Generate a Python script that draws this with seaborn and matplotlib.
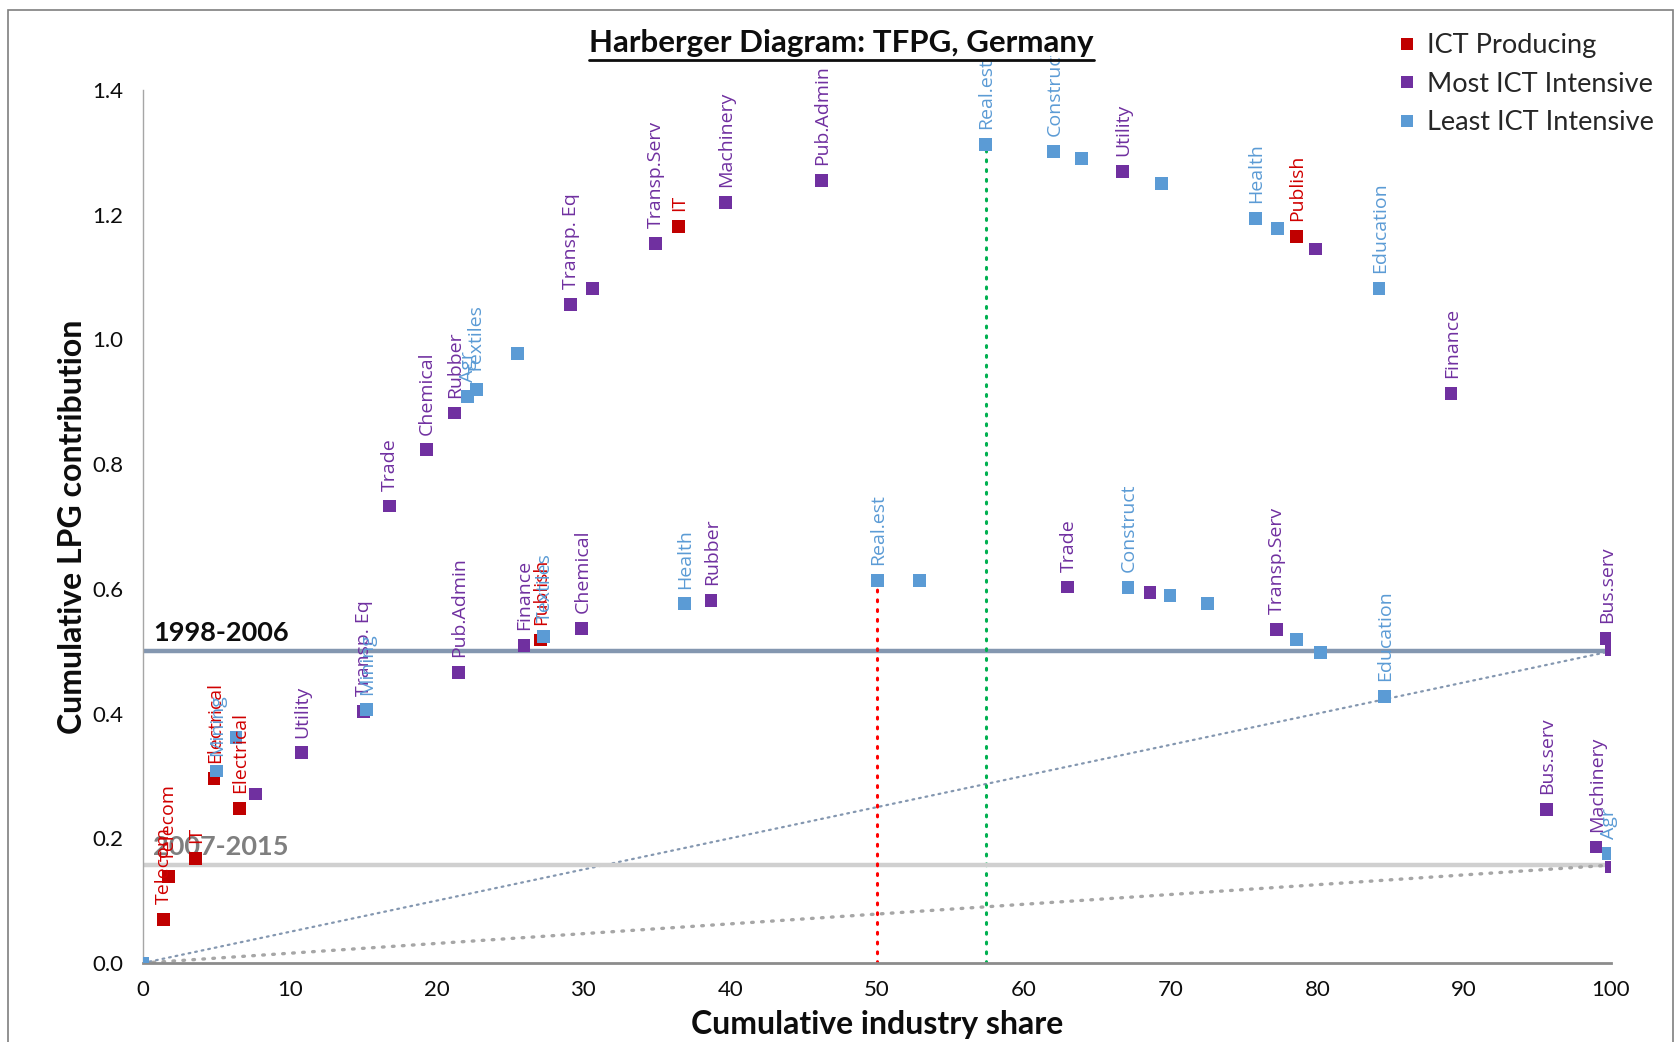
import matplotlib
matplotlib.use("Agg")
import matplotlib.pyplot as plt
import seaborn as sns
import pandas as pd
from matplotlib.transforms import Bbox, TransformedBbox
from matplotlib.lines import Line2D
from matplotlib.patches import Rectangle

# ---------------- data ----------------
groups = ["ICT Producing", "Most ICT Intensive", "Least ICT Intensive"]
group_colors = ["#C00000", "#7030A0", "#5B9BD5"]
P, M, L = groups

# Period 1998-2006
p1_share = [0, 1.38, 4.84, 5.03, 6.34, 16.8, 19.3, 21.2, 22.1, 22.7, 25.5, 29.1,
            30.6, 34.9, 36.5, 39.7, 46.2, 57.4, 62.05, 63.96, 66.75, 69.4, 75.8,
            77.3, 78.6, 79.9, 84.2, 89.1, 99.66, 100.0]
p1_lpg = [0, 0.070, 0.296, 0.308, 0.362, 0.733, 0.823, 0.882, 0.908, 0.920, 0.978,
          1.056, 1.082, 1.154, 1.181, 1.220, 1.255, 1.313, 1.301, 1.290, 1.269,
          1.250, 1.194, 1.178, 1.165, 1.145, 1.082, 0.913, 0.520, 0.502]
p1_group = [L, P, P, L, L, M, M, M, L, L, L, M, M, M, P, M, M, L, L, L, M, L, L,
            L, P, M, L, M, M, M]
p1_label = ["", "Telecom", "Electrical", "Mining", "", "Trade", "Chemical", "Rubber",
            "Agr", "Textiles", "", "Transp. Eq", "", "Transp.Serv", "IT", "Machinery",
            "Pub.Admin", "Real.est", "Construct", "", "Utility", "", "Health", "",
            "Publish", "", "Education", "Finance", "Bus.serv", ""]

# Period 2007-2015
p2_share = [0, 1.75, 3.57, 6.59, 7.68, 10.78, 15.04, 15.22, 21.5, 25.95, 27.1, 27.3,
            29.9, 36.9, 38.7, 50.05, 52.9, 63.0, 67.1, 68.6, 69.96, 72.5, 77.2, 78.6,
            80.2, 84.6, 95.6, 98.98, 99.8, 100.0]
p2_lpg = [0, 0.139, 0.168, 0.248, 0.271, 0.337, 0.403, 0.406, 0.466, 0.509, 0.518,
          0.523, 0.537, 0.576, 0.581, 0.614, 0.613, 0.603, 0.602, 0.594, 0.590, 0.577,
          0.535, 0.519, 0.498, 0.427, 0.246, 0.186, 0.175, 0.154]
p2_group = [L, P, P, P, M, M, M, L, M, M, P, L, M, L, M, L, L, M, L, M, L, L, M, L,
            L, L, M, M, L, M]
p2_label = ["", "Telecom", "IT", "Electrical", "", "Utility", "Transp. Eq", "Mining",
            "Pub.Admin", "Finance", "Publish", "Textiles", "Chemical", "Health", "Rubber",
            "Real.est", "", "Trade", "Construct", "", "", "", "Transp.Serv", "", "",
            "Education", "Bus.serv", "Machinery", "Agr", ""]

periods = ["1998-2006", "2007-2015"]
period_total = [0.50, 0.157]
period_line_colors = ["#8497B0", "#D0D0D0"]
period_diag_colors = ["#8497B0", "#A6A6A6"]
period_text_colors = ["#0D0D0D", "#7F7F7F"]
peak_line_colors = ["#00B050", "#FF0000"]
half_share = 50

x_ticks = [0, 10, 20, 30, 40, 50, 60, 70, 80, 90, 100]
y_ticks = [0.0, 0.2, 0.4, 0.6, 0.8, 1.0, 1.2, 1.4]

# ---------------- frame ----------------
df = pd.concat([
    pd.DataFrame({"share": p1_share, "lpg": p1_lpg, "group": p1_group,
                  "label": p1_label, "period": periods[0]}),
    pd.DataFrame({"share": p2_share, "lpg": p2_lpg, "group": p2_group,
                  "label": p2_label, "period": periods[1]}),
], ignore_index=True)
df["order"] = df["group"].map({g: i for i, g in enumerate(groups)})
df_draw = df.sort_values("order", kind="stable")

sns.set_theme(style="white")
plt.rcParams["font.family"] = ["Lato", "DejaVu Sans"]

fig = plt.figure(figsize=(16.76, 10.42), dpi=100)
ax = fig.add_axes([0.0853, 0.0758, 0.8759, 0.8378])

# reference lines
for i, per in enumerate(periods):
    sub = df[df["period"] == per]
    tot = period_total[i]
    ax.plot([0, 100], [tot, tot], color=period_line_colors[i], lw=3.2, zorder=1,
            solid_capstyle="butt")
    ax.plot([0, 100], [0, tot], color=period_diag_colors[i], lw=1.6 if i == 0 else 2.4,
            linestyle=(0, (0.8, 2.2)) if i == 0 else (0, (0.5, 2.5)),
            dash_capstyle="round", zorder=1)
    pk = sub.loc[sub["lpg"].idxmax()]
    px = pk["share"] if i == 0 else half_share
    ax.plot([px, px], [0, pk["lpg"]], color=peak_line_colors[i], lw=2.2,
            linestyle=(0, (0.6, 2.6)), dash_capstyle="round", zorder=1)
    ax.text(0.7, tot + 0.010, per, color=period_text_colors[i], fontsize=19.5,
            fontweight="bold", ha="left", va="bottom", zorder=2)

sns.scatterplot(data=df_draw, x="share", y="lpg", hue="group", hue_order=groups,
                palette=dict(zip(groups, group_colors)), marker="s", s=85,
                linewidth=0, ax=ax, zorder=3, legend=True)

# data labels
clip = TransformedBbox(Bbox([[0, 0], [1, 0.946]]), fig.transFigure)
label_colors = {P: "#D00000", M: "#7030A0", L: "#5B9BD5"}
for _, r in df.iterrows():
    if not r["label"]:
        continue
    t = ax.annotate(r["label"], (r["share"], r["lpg"]), xytext=(0.5, 11),
                    textcoords="offset points", rotation=90, ha="center", va="bottom",
                    fontsize=14, color=label_colors[r["group"]],
                    family=["Open Sans", "DejaVu Sans"], zorder=4,
                    annotation_clip=False)
    t.set_clip_box(clip)
    t.set_clip_on(True)

# axes styling
ax.set_xlim(0, 100)
ax.set_ylim(0, 1.4)
ax.set_xticks(x_ticks)
ax.set_yticks(y_ticks)
ax.set_yticklabels([f"{v:.1f}" for v in y_ticks])
ax.tick_params(axis="both", length=0, labelsize=16, colors="#0D0D0D")
ax.tick_params(axis="y", pad=14)
ax.tick_params(axis="x", pad=12)
for s in ["top", "right"]:
    ax.spines[s].set_visible(False)
ax.spines["left"].set_color("#A6A6A6")
ax.spines["left"].set_linewidth(1.0)
ax.spines["bottom"].set_color("#8C8C8C")
ax.spines["bottom"].set_linewidth(2.0)
ax.grid(False)

ax.set_xlabel("Cumulative industry share", fontsize=23, fontweight="bold", color="#0D0D0D")
ax.set_ylabel("Cumulative LPG contribution", fontsize=23, fontweight="bold", color="#0D0D0D")
ax.xaxis.set_label_coords(0.5, -0.054)
ax.yaxis.set_label_coords(-0.038, 0.5)

# legend
sns.move_legend(ax, "upper left", bbox_to_anchor=(0.8345, 0.968),
                bbox_transform=fig.transFigure, title=None, frameon=False,
                fontsize=19.5, borderpad=0, borderaxespad=0, handlelength=0.65,
                handletextpad=0.4, labelspacing=0.5, markerscale=1.0)

# title with underline
title = fig.text(0.502, 0.950, "Harberger Diagram: TFPG, Germany", ha="center",
                 va="baseline", fontsize=22.5, fontweight="bold", color="#0D0D0D")
fig.canvas.draw()
bb = title.get_window_extent(fig.canvas.get_renderer()).transformed(fig.transFigure.inverted())
fig.add_artist(Line2D([bb.x0, bb.x1], [0.9425, 0.9425], color="#0D0D0D", lw=2.0,
                      transform=fig.transFigure))

# outer frame
fig.add_artist(Rectangle((0.005, -0.01), 0.9935, 1.0, fill=False, edgecolor="#7F7F7F",
                         lw=1.2, transform=fig.transFigure))

fig.savefig("out.png", dpi=100)
